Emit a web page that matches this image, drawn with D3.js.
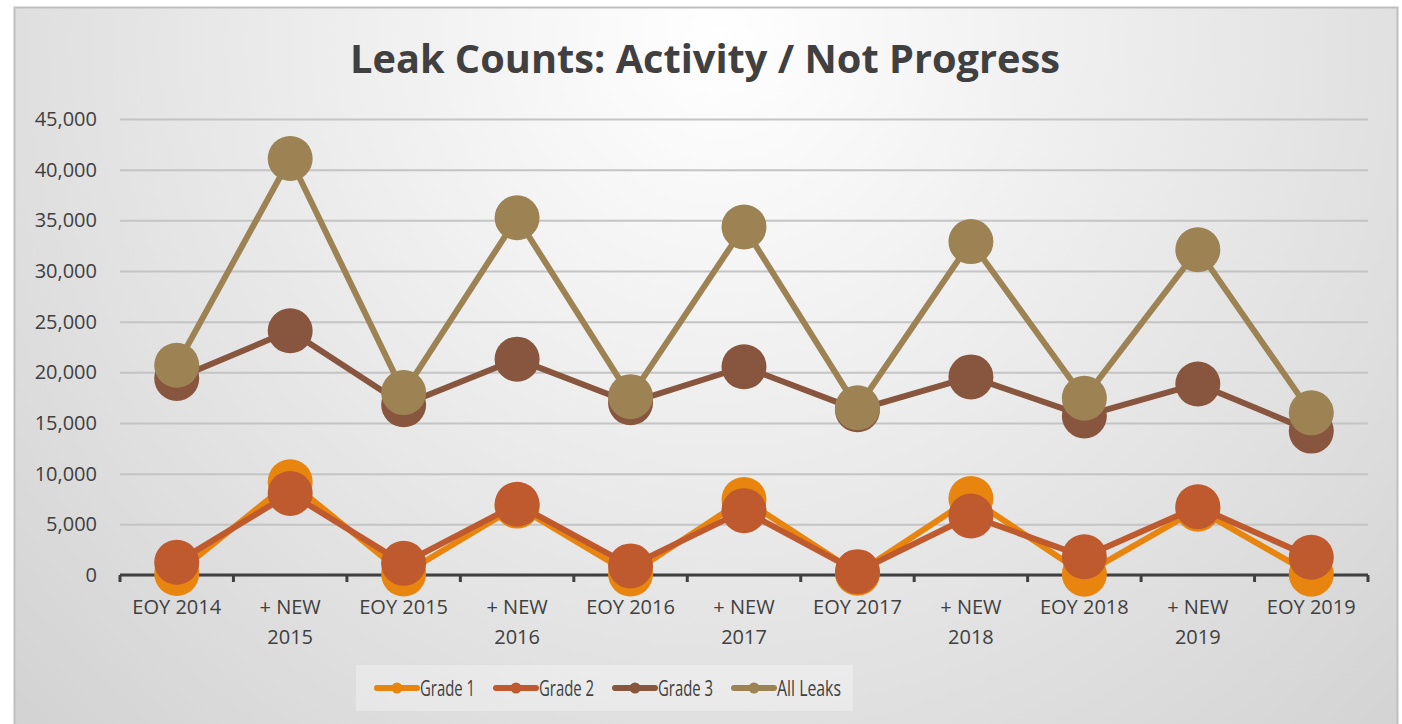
<!DOCTYPE html>
<html>
<head>
<meta charset="utf-8">
<script src="https://cdn.jsdelivr.net/npm/d3@7"></script>
<style>
  body { margin: 0; background: #fff; }
  svg text { font-family: "Open Sans", "Liberation Sans", sans-serif; fill: #404040; }
</style>
</head>
<body>
<svg id="chart"></svg>
<script>
const size = {w: 1402, h: 724};
const margin = {t: 119, r: 34, b: 149, l: 120};

// DATA
const categories = ['EOY 2014', '+ NEW 2015', 'EOY 2015', '+ NEW 2016', 'EOY 2016', '+ NEW 2017',
    'EOY 2017', '+ NEW 2018', 'EOY 2018', '+ NEW 2019', 'EOY 2019'];
const grade1 = [150, 9200, 100, 6800, 100, 7450, 170, 7550, 80, 6500, 80];
const grade2 = [1250, 8050, 1150, 6980, 900, 6350, 330, 5820, 1800, 6740, 1750];
const grade3 = [19400, 24100, 16800, 21300, 17000, 20550, 16300, 19550, 15700, 18850, 14200];
const allLeaks = [20700, 41100, 18000, 35250, 17600, 34350, 16500, 32900, 17450, 32100, 16000];
const yTicks = [0, 5000, 10000, 15000, 20000, 25000, 30000, 35000, 40000, 45000];
const seriesNames = ['Grade 1', 'Grade 2', 'Grade 3', 'All Leaks'];
const seriesColors = ['#e8850f', '#be5a2d', '#88553e', '#9d8254'];

const series = [grade1, grade2, grade3, allLeaks].map((vals, i) => ({
    name: seriesNames[i],
    color: seriesColors[i],
    values: vals.map((v, j) => ({cat: categories[j], v: v}))
}));

const svg = d3.select('svg#chart')
    .attr('width', size.w)
    .attr('height', size.h);

// background
const defs = svg.append('defs');
const grad = defs.append('radialGradient')
    .attr('id', 'bg')
    .attr('gradientUnits', 'userSpaceOnUse')
    .attr('cx', 720).attr('cy', 40)
    .attr('r', 1100);
grad.append('stop').attr('offset', '0%').attr('stop-color', '#ffffff');
grad.append('stop').attr('offset', '100%').attr('stop-color', '#cdcdcd');

svg.append('rect')
    .attr('x', 14.5).attr('y', 7.5)
    .attr('width', 1383).attr('height', 740)
    .attr('fill', 'url(#bg)')
    .attr('stroke', '#bfbfbf')
    .attr('stroke-width', 2);

const w = size.w - margin.l - margin.r;
const h = size.h - margin.t - margin.b;

const x = d3.scaleBand().domain(categories).range([margin.l, margin.l + w]);
const y = d3.scaleLinear().domain([0, 45000]).range([margin.t + h, margin.t]);

// title
svg.append('text')
    .attr('x', 705).attr('y', 73)
    .attr('text-anchor', 'middle')
    .attr('textLength', 710)
    .attr('lengthAdjust', 'spacingAndGlyphs')
    .style('font-size', '39px')
    .style('font-weight', 700)
    .text('Leak Counts: Activity / Not Progress');

// gridlines + y labels
const yAxis = svg.append('g')
    .attr('transform', `translate(${margin.l},0)`)
    .call(d3.axisLeft(y).tickValues(yTicks).tickSize(-w).tickFormat(d3.format(',')));
yAxis.select('.domain').remove();
yAxis.selectAll('.tick line')
    .attr('stroke', '#c4c4c4')
    .attr('stroke-width', 2);
yAxis.selectAll('.tick text')
    .attr('x', -23)
    .style('font-size', '20px')
    .style('font-family', '"Open Sans", sans-serif');

// x axis
const xAxis = svg.append('g')
    .attr('transform', `translate(0,${y(0)})`);
xAxis.append('line')
    .attr('x1', margin.l).attr('x2', margin.l + w)
    .attr('stroke', '#404040').attr('stroke-width', 3);
xAxis.selectAll('line.tick')
    .data(d3.range(categories.length + 1))
    .join('line')
    .classed('tick', true)
    .attr('x1', i => margin.l + i * x.step())
    .attr('x2', i => margin.l + i * x.step())
    .attr('y1', 0).attr('y2', 7)
    .attr('stroke', '#404040').attr('stroke-width', 3);

const xLabels = xAxis.selectAll('text')
    .data(categories)
    .join('text')
    .attr('text-anchor', 'middle')
    .attr('x', d => x(d) + x.bandwidth() / 2)
    .attr('y', 39)
    .style('font-size', '20px');
xLabels.each(function(d) {
    let parts = d.startsWith('+') ? ['+ NEW', d.slice(6)] : [d];
    d3.select(this).selectAll('tspan')
        .data(parts)
        .join('tspan')
        .attr('x', x(d) + x.bandwidth() / 2)
        .attr('dy', (p, i) => i ? 30 : 0)
        .text(p => p);
});

// series
const line = d3.line()
    .x(d => x(d.cat) + x.bandwidth() / 2)
    .y(d => y(d.v));

series.forEach(s => {
    const g = svg.append('g');
    g.append('path')
        .attr('d', line(s.values))
        .attr('fill', 'none')
        .attr('stroke', s.color)
        .attr('stroke-width', 6)
        .attr('stroke-linejoin', 'round');
    g.selectAll('circle')
        .data(s.values)
        .join('circle')
        .attr('cx', d => x(d.cat) + x.bandwidth() / 2)
        .attr('cy', d => y(d.v))
        .attr('r', 22.5)
        .attr('fill', s.color);
});

// legend
const legend = svg.append('g');
legend.append('rect')
    .attr('x', 356).attr('y', 665)
    .attr('width', 497).attr('height', 46)
    .attr('fill', '#ffffff')
    .attr('fill-opacity', 0.3);

const items = legend.selectAll('g.item')
    .data(series)
    .join('g')
    .classed('item', true)
    .attr('transform', (d, i) => `translate(${377 + i * 119},688)`);
items.append('line')
    .attr('x1', 0).attr('x2', 40)
    .attr('stroke', d => d.color)
    .attr('stroke-width', 6)
    .attr('stroke-linecap', 'round');
items.append('circle')
    .attr('cx', 20).attr('r', 5.5)
    .attr('fill', d => d.color);
items.append('text')
    .attr('x', 43).attr('dy', '0.36em')
    .attr('textLength', d => d.name === 'All Leaks' ? 64 : 55)
    .attr('lengthAdjust', 'spacingAndGlyphs')
    .style('font-size', '21px')
    .text(d => d.name);
</script>
</body>
</html>
